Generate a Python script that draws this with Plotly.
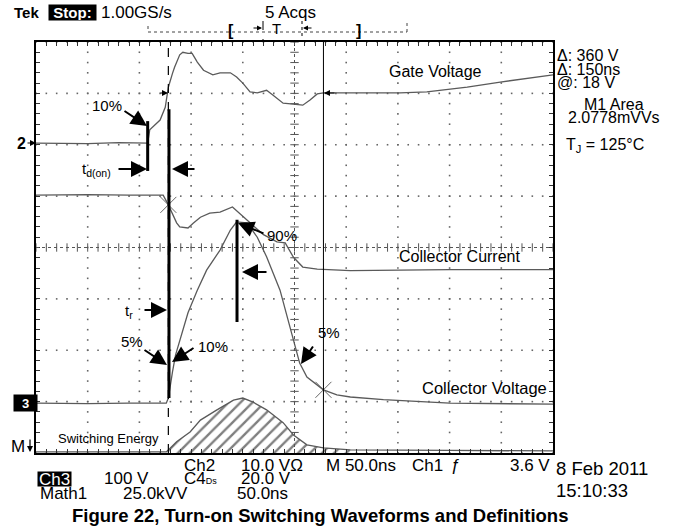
import plotly.graph_objects as go

# ---------------- data (time in ns, 50 ns/div; vertical in screen divisions) -------------
gate_t = [-250, -200, -170, -142, -140, -130, -125, -122, -118, -116, -111, -108, -103, -99,
          -94, -88, -79, -72, -62, -56, -50, -43, -36, -27, -21, -11, -1, 8, 15, 22, 28,
          63, 102, 128, 167, 199, 250]
gate_div = [2.03, 2.02, 2.04, 2.03, 2.29, 2.48, 2.73, 3.12, 3.39, 3.51, 3.75, 3.80, 3.78, 3.78,
            3.61, 3.45, 3.36, 3.40, 3.40, 3.32, 3.20, 3.03, 3.01, 3.06, 2.97, 2.81, 2.79, 2.77,
            2.87, 2.99, 3.01, 3.01, 3.01, 3.03, 3.12, 3.22, 3.36]

current_t = [-250, -200, -160, -127, -122, -114, -111, -103, -98, -91, -82, -72, -60, -53,
             -43, -30, -17, -9, -1, 8, 22, 54, 150, 250]
current_div = [1.02, 1.03, 1.02, 1.02, 0.83, 0.48, 0.40, 0.38, 0.47, 0.59, 0.67, 0.69, 0.79,
               0.67, 0.48, 0.25, 0.11, 0.09, -0.19, -0.38, -0.42, -0.45, -0.43, -0.43]

voltage_t = [-250, -200, -160, -124, -122, -120, -118, -115, -111, -103, -94, -85, -72, -62,
             -56, -46, -36, -27, -14, -1, 5, 12, 22, 28, 41, 54, 86, 150, 250]
voltage_div = [-3.03, -3.04, -3.03, -3.03, -2.93, -2.64, -2.42, -2.09, -1.80, -1.27, -0.83,
               -0.44, -0.05, 0.34, 0.50, 0.48, 0.20, -0.18, -0.83, -1.80, -2.25, -2.52, -2.67,
               -2.77, -2.87, -2.91, -2.96, -3.03, -3.05]

energy_t = [-250, -124, -122, -114, -101, -91, -75, -59, -50, -40, -27, -11, -1, 12, 28, 54,
            150, 250]
energy_div = [-3.98, -3.98, -3.94, -3.78, -3.59, -3.36, -3.16, -2.97, -2.93, -3.01, -3.16,
              -3.41, -3.65, -3.84, -3.90, -3.94, -3.95, -3.96]

cursor_t = [-122, 28]                       # cursor positions (delta = 150 ns)
cross_t = [-122, 28]                        # cursor crossings marked with X
cross_div = [0.83, -2.77]
# definition bars: (time, top div, bottom div)
bar_t = [-142, -121.4, -55.6]
bar_top = [2.46, 2.69, 0.54]
bar_bot = [1.49, -2.93, -1.45]

X0, X1, Y0, Y1 = -250, 250, -4, 4

# ---------------- figure -------------
L, T, PW, PH = 36, 42, 517, 411
W, H = 684, 531
def px(x):
    return (x - L) / PW
def py(y):
    return (T + PH - y) / PH

SCOPE = "Liberation Sans, Arial, sans-serif"
ARIAL = "Liberation Sans, Arial, sans-serif"
TRC = "#5a5a5a"

fig = go.Figure()

# grid dots
gx, gy = [], []
for k in range(-4, 5):
    if k == 0:
        continue
    for j in range(0, 51):
        gx.append(X0 + j * 10)
        gy.append(k)
for k in range(-4, 5):
    if k == 0:
        continue
    for j in range(0, 41):
        gx.append(k * 50)
        gy.append(Y0 + j * 0.2)
fig.add_trace(go.Scatter(x=gx, y=gy, mode="markers", hoverinfo="skip",
                         marker=dict(symbol="square", size=1.6, color="#666", line=dict(width=0))))
# centre axes with ticks
fig.add_trace(go.Scatter(x=[X0 + j * 10 for j in range(51)], y=[0] * 51, mode="markers",
                         hoverinfo="skip",
                         marker=dict(symbol="line-ns-open", size=6, color="#555",
                                     line=dict(width=1, color="#555"))))
fig.add_trace(go.Scatter(x=[0] * 41, y=[Y0 + j * 0.2 for j in range(41)], mode="markers",
                         hoverinfo="skip",
                         marker=dict(symbol="line-ew-open", size=6, color="#555",
                                     line=dict(width=1, color="#555"))))
fig.add_shape(type="line", x0=X0, x1=X1, y0=0, y1=0, line=dict(color="#555", width=1, dash="dot"))
fig.add_shape(type="line", x0=0, x1=0, y0=Y0, y1=Y1, line=dict(color="#555", width=1, dash="dot"))

# switching energy hatched area
hatch_t = [t for t in energy_t if cursor_t[0] <= t <= 60]
hatch_d = [d for t, d in zip(energy_t, energy_div) if cursor_t[0] <= t <= 60]
fig.add_trace(go.Scatter(x=[hatch_t[0], hatch_t[-1]], y=[Y0, Y0], mode="lines",
                         line=dict(width=0), hoverinfo="skip"))
fig.add_trace(go.Scatter(x=hatch_t, y=hatch_d, mode="lines", fill="tonexty",
                         fillcolor="white", line=dict(width=0), hoverinfo="skip",
                         fillpattern=dict(shape="/", fgcolor="black", bgcolor="white",
                                          size=8.5, solidity=0.28)))

# waveforms
for tx, ty in [(gate_t, gate_div), (current_t, current_div), (voltage_t, voltage_div),
               (energy_t, energy_div)]:
    fig.add_trace(go.Scatter(x=tx, y=ty, mode="lines", hoverinfo="skip",
                             line=dict(color=TRC, width=1.3)))

# cursors
fig.add_shape(type="line", x0=cursor_t[0], x1=cursor_t[0], y0=Y0, y1=Y1,
              line=dict(color="black", width=1.2, dash="dash"))
fig.add_shape(type="line", x0=cursor_t[1], x1=cursor_t[1], y0=Y0, y1=Y1,
              line=dict(color="black", width=1))
fig.add_trace(go.Scatter(x=cross_t, y=cross_div, mode="markers", hoverinfo="skip",
                         marker=dict(symbol="x-thin-open", size=16, color="#666",
                                     line=dict(width=1, color="#666"))))
# definition bars
for bt, b0, b1 in zip(bar_t, bar_top, bar_bot):
    fig.add_shape(type="line", x0=bt, x1=bt, y0=b0, y1=b1, line=dict(color="black", width=3))

ann = []
def txt(x, y, s, size=14, fam=ARIAL, anchor="left", color="black", bg=None, weight="normal",
        w=None, h=None):
    d = dict(x=px(x), y=py(y), xref="paper", yref="paper", text=s, showarrow=False,
             xanchor=anchor, yanchor="middle",
             font=dict(size=size, family=fam, color=color, weight=weight),
             bgcolor=bg, borderpad=0)
    if w:
        d["width"] = w
        d["align"] = "center"
    if h:
        d["height"] = h
    ann.append(d)

def arrow(tx, ty, sx, sy, w=2, sz=1.6):
    ann.append(dict(x=px(tx), y=py(ty), xref="paper", yref="paper", text="", showarrow=True,
                    ax=sx - tx, ay=sy - ty, arrowhead=2, arrowsize=sz, arrowwidth=w,
                    arrowcolor="black", standoff=0))

# header
txt(13, 13, "Tek", 15, SCOPE, weight="bold")
txt(48, 13, "Stop:", 15, SCOPE, color="white", bg="black", weight="bold", w=47, h=15)
txt(100, 13, "1.00GS/s", 17, SCOPE)
txt(264, 13, "5 Acqs", 17, SCOPE)
txt(227, 30, "[", 16, SCOPE, weight="bold")
txt(276, 29, "T", 15, SCOPE, anchor="center")
txt(355, 30, "]", 16, SCOPE, weight="bold")
arrow(262, 28, 252, 28, 1, 1)
arrow(303, 28, 313, 28, 1, 1)

# left markers
txt(16, 143, "2", 16, ARIAL, weight="bold")
arrow(36, 143, 26, 143, 1.2, 1)
txt(13, 403, "3", 13, SCOPE, color="white", bg="black", weight="bold", w=23, h=16)
txt(10, 446, "M", 17, SCOPE)
arrow(30, 452, 30, 438, 1.2, 1)

# right panel
txt(556, 56, "Δ: 360 V", 16)
txt(556, 69, "Δ: 150ns", 16)
txt(556, 82, "@: 18 V", 16)
txt(614, 104, "M1 Area", 16, anchor="center")
txt(614, 117, "2.0778mVVs", 16, anchor="center")
txt(565, 145, "T<sub>J</sub> = 125°C", 16)

# bottom text
txt(183, 465, "Ch2", 17, SCOPE)
txt(240, 465, "10.0 VΩ", 17, SCOPE)
txt(325, 465, "M 50.0ns", 17, SCOPE)
txt(411, 465, "Ch1", 17, SCOPE)
txt(450, 465, "ƒ", 17, SCOPE)
txt(509, 465, "3.6 V", 17, SCOPE)
txt(555, 468, "8 Feb 2011", 18.5, SCOPE)
txt(37, 479, "Ch3", 17, SCOPE, color="white", bg="black", w=33, h=14)
txt(103, 479, "100 V", 17, SCOPE)
txt(183, 479, "C4<span style='font-size:9px'>Ds</span>", 17, SCOPE)
txt(240, 479, "20.0 V", 17, SCOPE)
txt(39, 493, "Math1", 17, SCOPE)
txt(122, 493, "25.0kVV", 17, SCOPE)
txt(236, 493, "50.0ns", 17, SCOPE)
txt(555, 490, "15:10:33", 18.5, SCOPE)
txt(320, 515, "Figure 22, Turn-on Switching Waveforms and Definitions", 18.5, ARIAL,
    anchor="center", weight="bold")

# waveform labels
txt(388, 71, "Gate Voltage", 16)
txt(398, 256, "Collector Current", 16)
txt(421, 388, "Collector Voltage", 16.5)
txt(57, 438, "Switching Energy", 13)
txt(91, 105, "10%", 15)
txt(81, 169, "t<sub>d(on)</sub>", 15)
txt(266, 235, "90%", 15)
txt(124, 311, "t<sub>r</sub>", 15)
txt(120, 341, "5%", 15)
txt(197, 346, "10%", 15)
txt(317, 332, "5%", 15)

# definition arrows
arrow(147, 126, 123, 110)
arrow(147, 169, 117, 169)
arrow(172, 169, 196, 169)
arrow(238, 223, 265, 234)
arrow(242, 272, 268, 272)
arrow(167, 310, 143, 310)
arrow(167, 365, 143, 349)
arrow(172, 362, 195, 347)
arrow(301, 364, 314, 345)
arrow(168, 93, 159, 93, 1.2, 1)
arrow(324, 93, 336, 93, 1.2, 1)

fig.update_layout(
    width=W, height=H, margin=dict(l=L, r=W - L - PW, t=T, b=H - T - PH),
    paper_bgcolor="white", plot_bgcolor="white", showlegend=False,
    annotations=ann,
    xaxis=dict(range=[X0, X1], showgrid=False, zeroline=False, showline=True, mirror="ticks",
               linecolor="black", linewidth=1.5, ticks="inside", ticklen=4, tickcolor="#333",
               tickwidth=1, tickmode="linear", tick0=X0, dtick=10, showticklabels=False),
    yaxis=dict(range=[Y0, Y1], showgrid=False, zeroline=False, showline=True, mirror="ticks",
               linecolor="black", linewidth=1.5, ticks="inside", ticklen=4, tickcolor="#333",
               tickwidth=1, tickmode="linear", tick0=Y0, dtick=0.2, showticklabels=False),
)
# trigger bar in header
fig.add_shape(type="line", xref="paper", yref="paper", x0=px(148), x1=px(407), y0=py(32), y1=py(32),
              line=dict(color="#444", width=1, dash="dot"))
fig.add_shape(type="line", xref="paper", yref="paper", x0=px(148), x1=px(148), y0=py(26), y1=py(32),
              line=dict(color="#444", width=1, dash="dot"))
fig.add_shape(type="line", xref="paper", yref="paper", x0=px(407), x1=px(407), y0=py(23), y1=py(32),
              line=dict(color="#444", width=1, dash="dot"))
fig.add_shape(type="line", xref="paper", yref="paper", x0=px(263), x1=px(263), y0=py(21), y1=py(40),
              line=dict(color="black", width=1, dash="dash"))
fig.add_shape(type="line", xref="paper", yref="paper", x0=px(302), x1=px(302), y0=py(21), y1=py(37),
              line=dict(color="black", width=1, dash="dot"))

# remove the default 8px page margin so the figure sits at the window's top-left corner
fig.write_html("out.html", config={"displayModeBar": False},
               post_script="document.body.style.margin='0px';")
